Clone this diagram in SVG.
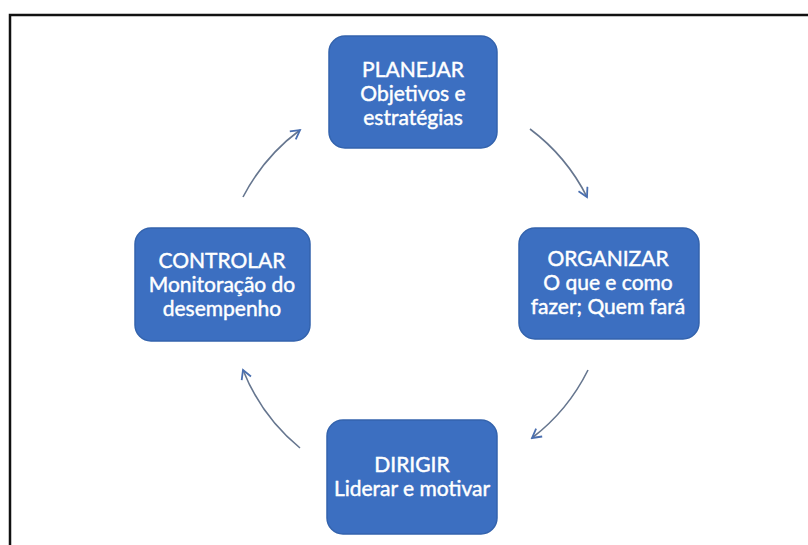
<svg xmlns="http://www.w3.org/2000/svg" width="808" height="545" viewBox="0 0 808 545">
<defs>
<style>
.box{fill:#3c6fc1;stroke:#3363ad;stroke-width:1.5}
.t{font-family:Lato,"Open Sans","Liberation Sans",sans-serif;font-size:21px;fill:#ffffff;stroke:#ffffff;stroke-width:0.45;text-anchor:middle}
.c{fill:none;stroke:#66768f;stroke-width:1.6;marker-end:url(#ah)}
</style>
<marker id="ah" viewBox="0 0 12 12" refX="10" refY="6" markerWidth="12" markerHeight="12" markerUnits="userSpaceOnUse" orient="auto">
<path d="M1,1 L10,6 L1,11" fill="none" stroke="#4a6fb0" stroke-width="1.8"/>
</marker>
</defs>
<rect width="808" height="545" fill="#ffffff"/>
<path d="M10,545 V15 H808" fill="none" stroke="#111111" stroke-width="2.5"/>
<g id="connectors">
<path class="c" d="M530,129 A194,194 0 0 1 587,197"/>
<path class="c" d="M588,370 A194,194 0 0 1 532,438"/>
<path class="c" d="M300,448 A194,194 0 0 1 243,370"/>
<path class="c" d="M243,197 A194,194 0 0 1 300,130"/>
</g>
<g id="planejar">
<rect class="box" x="329" y="36" width="168" height="112" rx="16"/>
<text class="t" x="413" y="77"><tspan>PLANEJAR</tspan><tspan x="413" dy="24">Objetivos e</tspan><tspan x="413" dy="24">estratégias</tspan></text>
</g>
<g id="organizar">
<rect class="box" x="519" y="228" width="180" height="111" rx="16"/>
<text class="t" x="608" y="266"><tspan>ORGANIZAR</tspan><tspan x="608" dy="24">O que e como</tspan><tspan x="608" dy="24">fazer; Quem fará</tspan></text>
</g>
<g id="dirigir">
<rect class="box" x="327" y="420" width="170" height="114" rx="16"/>
<text class="t" x="412" y="472"><tspan>DIRIGIR</tspan><tspan x="412" dy="24">Liderar e motivar</tspan></text>
</g>
<g id="controlar">
<rect class="box" x="135" y="228" width="175" height="113" rx="16"/>
<text class="t" x="222" y="268"><tspan>CONTROLAR</tspan><tspan x="222" dy="24">Monitoração do</tspan><tspan x="222" dy="24">desempenho</tspan></text>
</g>
</svg>
